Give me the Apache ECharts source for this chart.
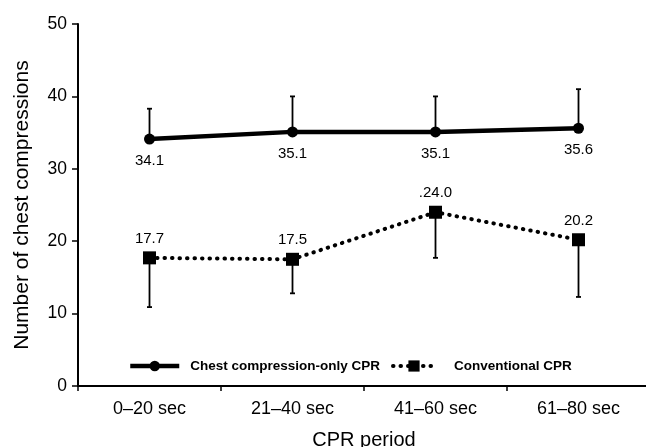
<!DOCTYPE html>
<html>
<head>
<meta charset="utf-8">
<script src="https://cdn.jsdelivr.net/npm/echarts@6/dist/echarts.min.js"></script>
<style>
  html, body { margin: 0; padding: 0; background: #fff; }
  #chart { width: 646px; height: 447px; }
</style>
</head>
<body>
<div id="chart"></div>
<script>
const categories = ['0–20 sec', '21–40 sec', '41–60 sec', '61–80 sec'];
const chestOnly = [34.1, 35.1, 35.1, 35.6];
const chestOnlyUpper = [38.3, 40.0, 40.0, 41.0];
const conventional = [17.7, 17.5, 24.0, 20.2];
const conventionalLower = [10.9, 12.8, 17.7, 12.3];
const conventionalLabels = ['17.7', '17.5', '.24.0', '20.2'];
const yTicks = [0, 10, 20, 30, 40, 50];

const font = 'Liberation Sans, Arial, sans-serif';

// error bars (one-sided), built from the arrays above
const errData = [];
chestOnly.forEach((v, i) => errData.push([i, v, chestOnlyUpper[i]]));
conventional.forEach((v, i) => errData.push([i, v, conventionalLower[i]]));

function renderErr(params, api) {
  const a = api.coord([api.value(0), api.value(1)]);
  const b = api.coord([api.value(0), api.value(2)]);
  const style = { stroke: '#000', lineWidth: 1.8 };
  return {
    type: 'group',
    children: [
      { type: 'line', shape: { x1: a[0], y1: a[1], x2: b[0], y2: b[1] }, style },
      { type: 'line', shape: { x1: b[0] - 2.5, y1: b[1], x2: b[0] + 2.5, y2: b[1] }, style },
    ],
  };
}

const chart = echarts.init(document.getElementById('chart'));
chart.setOption({
  animation: false,
  textStyle: { fontFamily: font },
  grid: { left: 78, top: 24, width: 572, height: 362, outerBoundsMode: 'none', containLabel: false },
  legend: [
    {
      data: ['Chest compression-only CPR'],
      left: 123, top: 354,
      itemWidth: 49, itemHeight: 13,
      lineStyle: { width: 4.5 },
      textStyle: { fontSize: 13.5, fontWeight: 'bold', color: '#000', fontFamily: font, padding: [0, 0, 0, 6] },
    },
    {
      data: ['Conventional CPR'],
      left: 386, top: 354,
      itemWidth: 42, itemHeight: 14,
      lineStyle: { width: 4, type: [0.5, 7], cap: 'round' },
      textStyle: { fontSize: 13.5, fontWeight: 'bold', color: '#000', fontFamily: font, padding: [0, 0, 0, 14] },
    },
  ],
  xAxis: {
    type: 'category',
    data: categories,
    name: 'CPR period',
    nameLocation: 'middle',
    nameGap: 44,
    nameTextStyle: { fontSize: 20, color: '#000' },
    axisLine: { lineStyle: { color: '#000', width: 2 } },
    axisTick: { show: true, length: 5, lineStyle: { color: '#000', width: 1.5 } },
    axisLabel: { fontSize: 18, color: '#000', margin: 14 },
  },
  yAxis: {
    type: 'value',
    min: 0, max: 50, interval: 10,
    name: 'Number of chest compressions',
    nameLocation: 'middle',
    nameGap: 45,
    nameTextStyle: { fontSize: 21, color: '#000' },
    axisLine: { show: true, lineStyle: { color: '#000', width: 2 } },
    axisTick: { show: true, length: 6, lineStyle: { color: '#000', width: 1.5 } },
    axisLabel: {
      fontSize: 17.5, color: '#000', margin: 11,
      formatter: v => (yTicks.includes(v) ? String(v) : ''),
    },
    splitLine: { show: false },
  },
  series: [
    {
      type: 'custom',
      renderItem: renderErr,
      data: errData,
      z: 1,
      silent: true,
    },
    {
      name: 'Chest compression-only CPR',
      type: 'line',
      data: chestOnly,
      symbol: 'circle',
      symbolSize: 11,
      lineStyle: { color: '#000', width: 4.5 },
      itemStyle: { color: '#000' },
      label: {
        show: true, position: 'bottom', distance: 9,
        fontSize: 15, color: '#000',
        formatter: p => p.value.toFixed(1),
      },
      z: 3,
    },
    {
      name: 'Conventional CPR',
      type: 'line',
      data: conventional,
      symbol: 'rect',
      symbolSize: 13,
      lineStyle: { color: '#000', width: 4, type: [0.5, 7], cap: 'round' },
      itemStyle: { color: '#000' },
      label: {
        show: true, position: 'top', distance: 5,
        fontSize: 15, color: '#000',
        formatter: p => conventionalLabels[p.dataIndex],
      },
      z: 3,
    },
  ],
});
</script>
</body>
</html>
